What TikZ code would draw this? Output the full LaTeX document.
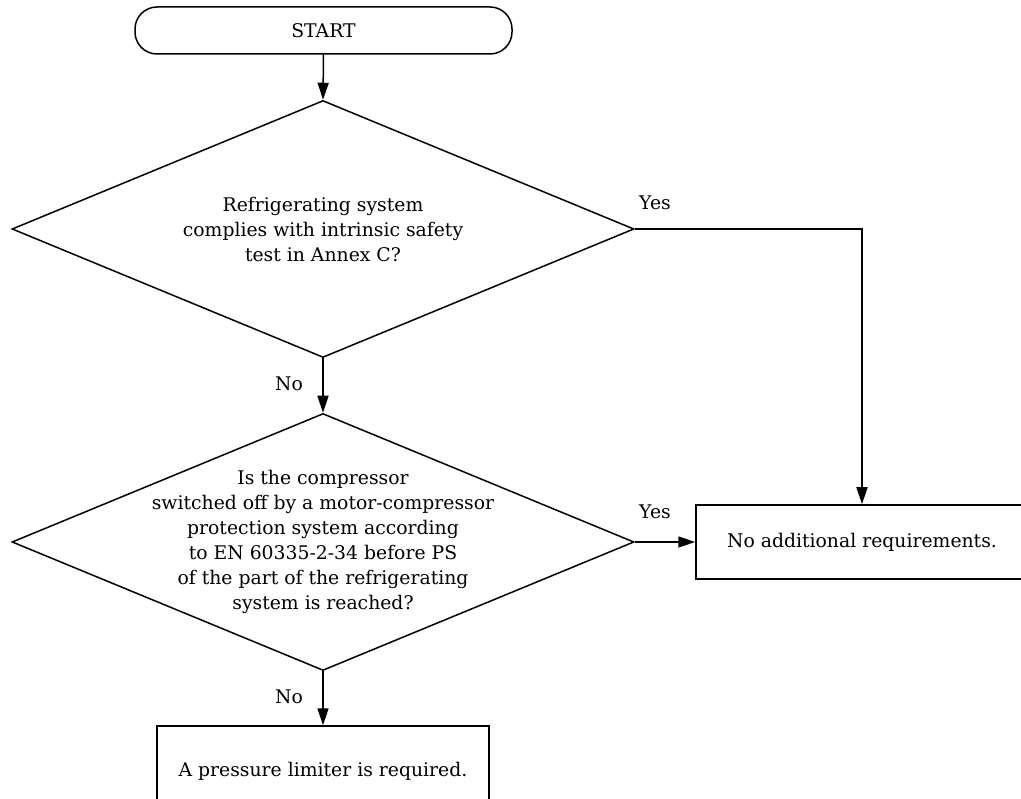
\documentclass[tikz,border=0pt]{standalone}
\usepackage{fontspec}
\setmainfont{DejaVu Serif}
\usetikzlibrary{shapes.geometric,arrows.meta}
\begin{document}
\begin{tikzpicture}[x=1pt,y=-1pt,
  every node/.style={font=\fontsize{18.8}{25}\selectfont},
  line/.style={line width=1.5pt},
  arr/.style={line, -{Triangle[length=17pt,width=11pt]}},
  startbox/.style={draw, line width=1.5pt, rectangle, rounded corners=22pt, minimum width=377pt, minimum height=47pt, inner sep=0pt},
  decision/.style={draw, line width=1.5pt, diamond, aspect=2.43, minimum width=622pt, minimum height=257pt, inner sep=-60pt, align=center},
  outbox/.style={draw, line width=1.5pt, rectangle, minimum width=332pt, minimum height=74pt, inner sep=0pt},
  lbl/.style={inner sep=0pt}
]
\useasboundingbox (0,0) rectangle (1021,799);
\clip (0,0) rectangle (1021,799);
\node[startbox] (start) at (323.5,30.5) {START};
\node[decision] (d1) at (323,229) {Refrigerating system\\complies with intrinsic safety\\test in Annex C?};
\node[decision] (d2) at (323,542) {Is the compressor\\switched off by a motor-compressor\\protection system according\\to EN 60335-2-34 before PS\\of the part of the refrigerating\\system is reached?};
\node[outbox] (r) at (862,542) {No additional requirements.};
\node[outbox, minimum height=90pt] (b) at (323,771) {A pressure limiter is required.};
\draw[arr] (start.south) -- (d1.north);
\draw[arr] (d1.east) -| (r.north);
\draw[arr] (d1.south) -- (d2.north);
\draw[arr] (d2.east) -- (r.west);
\draw[arr] (d2.south) -- (b.north);
\node[lbl] (y1) at (655,203) {Yes};
\node[lbl] (y2) at (655,512) {Yes};
\node[lbl] (n1) at (289,384) {No};
\node[lbl] (n2) at (289,697) {No};
\end{tikzpicture}
\end{document}
